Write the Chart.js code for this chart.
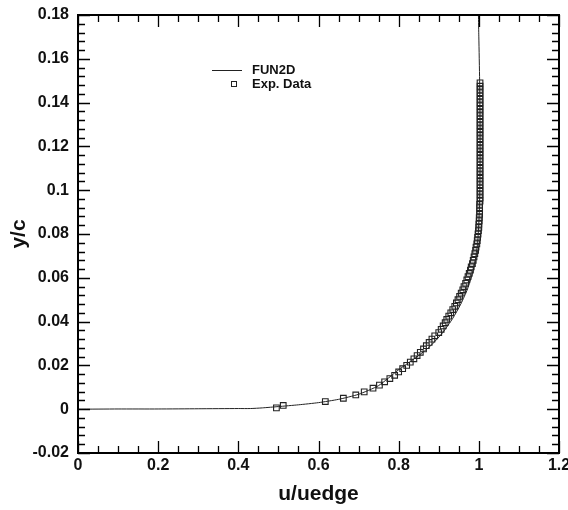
<!DOCTYPE html>
<html>
<head>
<meta charset="utf-8">
<script src="https://cdn.jsdelivr.net/npm/chart.js@4"></script>
<style>
  html, body { margin: 0; padding: 0; background: #fff; }
  #wrap { width: 568px; height: 510px; }
</style>
</head>
<body>
<div id="wrap"><canvas id="c" width="568" height="510"></canvas></div>
<script>
// ---- Data ----
const seriesNames = ['FUN2D', 'Exp. Data'];

// FUN2D computed profile (u/uedge, y/c)
const fun2dU = [0, 0.10, 0.20, 0.30, 0.40, 0.43, 0.46, 0.50, 0.55, 0.60, 0.65, 0.70, 0.75, 0.80, 0.85, 0.88, 0.91, 0.935, 0.955, 0.972, 0.984, 0.992, 0.997, 1.000, 1.002, 1.003, 1.003, 1.002, 1.000, 0.999];
const fun2dY = [0, 0.0001, 0.0001, 0.0002, 0.0003, 0.0003, 0.0006, 0.0012, 0.0020, 0.0030, 0.0045, 0.0068, 0.0108, 0.0180, 0.0245, 0.0290, 0.0350, 0.0415, 0.0480, 0.0550, 0.0620, 0.0690, 0.0760, 0.0850, 0.0950, 0.1100, 0.1300, 0.1500, 0.1700, 0.1800];

// Experimental data (u/uedge, y/c)
const expU = [0.495, 0.512, 0.617, 0.662, 0.693, 0.714, 0.736, 0.752, 0.765, 0.778, 0.790, 0.800, 0.810, 0.820, 0.829, 0.838, 0.846, 0.854, 0.862, 0.869, 0.876, 0.883, 0.890, 0.900, 0.906, 0.911, 0.916, 0.920, 0.925, 0.930, 0.935, 0.940, 0.944, 0.948, 0.952, 0.956, 0.960, 0.963, 0.967, 0.970, 0.973, 0.976, 0.979, 0.981, 0.984, 0.986, 0.988, 0.990, 0.992, 0.993, 0.995, 0.996, 0.997, 0.998, 0.999, 1.000, 1.000, 1.001, 1.001, 1.002, 1.002, 1.002, 1.002, 1.003, 1.003, 1.003, 1.003, 1.003, 1.003, 1.003, 1.003, 1.003, 1.003, 1.003, 1.003, 1.003, 1.003, 1.003, 1.003, 1.003, 1.003, 1.003, 1.003, 1.003, 1.003, 1.003, 1.003, 1.003, 1.003, 1.003, 1.003, 1.003, 1.003, 1.003, 1.003, 1.003, 1.003, 1.003, 1.003, 1.003];
const expY = [0.0006, 0.0017, 0.0035, 0.0050, 0.0065, 0.0079, 0.0096, 0.0110, 0.0125, 0.0140, 0.0155, 0.0170, 0.0185, 0.0200, 0.0215, 0.0230, 0.0245, 0.0260, 0.0275, 0.0290, 0.0305, 0.0320, 0.0335, 0.0350, 0.0365, 0.0380, 0.0395, 0.0410, 0.0425, 0.0440, 0.0455, 0.0470, 0.0485, 0.0500, 0.0515, 0.0530, 0.0545, 0.0560, 0.0575, 0.0590, 0.0605, 0.0620, 0.0635, 0.0650, 0.0665, 0.0680, 0.0695, 0.0710, 0.0725, 0.0740, 0.0755, 0.0770, 0.0785, 0.0800, 0.0815, 0.0830, 0.0845, 0.0860, 0.0875, 0.0890, 0.0905, 0.0920, 0.0935, 0.0950, 0.0965, 0.0980, 0.0995, 0.1010, 0.1025, 0.1040, 0.1055, 0.1070, 0.1085, 0.1100, 0.1115, 0.1130, 0.1145, 0.1160, 0.1175, 0.1190, 0.1205, 0.1220, 0.1235, 0.1250, 0.1265, 0.1280, 0.1295, 0.1310, 0.1325, 0.1340, 0.1355, 0.1370, 0.1385, 0.1400, 0.1415, 0.1430, 0.1445, 0.1460, 0.1475, 0.1490, 0.1505];

// Axis ticks
const xTickLabels = ['0', '0.2', '0.4', '0.6', '0.8', '1', '1.2'];
const yTickLabels = ['-0.02', '0', '0.02', '0.04', '0.06', '0.08', '0.1', '0.12', '0.14', '0.16', '0.18'];
const xRange = [0, 1.2];
const yRange = [-0.02, 0.18];
const xMajorStep = 0.2, xMinorStep = 0.05;
const yMajorStep = 0.02, yMinorStep = 0.004;

// ---- Chart ----
const FONT = "'Liberation Sans', Arial, Helvetica, sans-serif";
const toPts = (xs, ys) => xs.map((x, i) => ({ x: x, y: ys[i] }));

const framePlugin = {
  id: 'frame',
  afterDatasetsDraw(chart) {
    const ctx = chart.ctx;
    const a = chart.chartArea;
    const xs = chart.scales.x, ys = chart.scales.y;
    ctx.save();
    ctx.strokeStyle = '#000';
    // ticks
    ctx.lineWidth = 1.3;
    const nx = Math.round((xRange[1] - xRange[0]) / xMinorStep);
    for (let i = 0; i <= nx; i++) {
      const v = xRange[0] + i * xMinorStep;
      const major = (i % Math.round(xMajorStep / xMinorStep)) === 0;
      const len = major ? 12 : 7;
      const px = Math.round(xs.getPixelForValue(v)) + 0.5;
      ctx.beginPath();
      ctx.moveTo(px, a.bottom); ctx.lineTo(px, a.bottom - len);
      ctx.moveTo(px, a.top); ctx.lineTo(px, a.top + len);
      ctx.stroke();
    }
    const ny = Math.round((yRange[1] - yRange[0]) / yMinorStep);
    for (let i = 0; i <= ny; i++) {
      const v = yRange[0] + i * yMinorStep;
      const major = (i % Math.round(yMajorStep / yMinorStep)) === 0;
      const len = major ? 12 : 7;
      const py = Math.round(ys.getPixelForValue(v)) + 0.5;
      ctx.beginPath();
      ctx.moveTo(a.left, py); ctx.lineTo(a.left + len, py);
      ctx.moveTo(a.right, py); ctx.lineTo(a.right - len, py);
      ctx.stroke();
    }
    // frame
    ctx.lineWidth = 2;
    ctx.strokeRect(a.left, a.top, a.right - a.left, a.bottom - a.top);

    // legend
    const lx = a.left + 134, ly = a.top + 55;
    ctx.lineWidth = 1;
    ctx.strokeStyle = '#222';
    ctx.beginPath();
    ctx.moveTo(lx, ly + 0.5); ctx.lineTo(lx + 30, ly + 0.5);
    ctx.stroke();
    ctx.strokeStyle = '#222';
    ctx.strokeRect(lx + 19.5, ly + 11.5, 5, 5);
    ctx.fillStyle = '#111';
    ctx.font = "bold 13px " + FONT;
    ctx.textBaseline = 'middle';
    ctx.textAlign = 'left';
    ctx.fillText(seriesNames[0], lx + 40, ly);
    ctx.fillText(seriesNames[1], lx + 40, ly + 14);
    ctx.restore();
  }
};

new Chart(document.getElementById('c'), {
  type: 'scatter',
  data: {
    datasets: [
      {
        label: seriesNames[0],
        data: toPts(fun2dU, fun2dY),
        showLine: true,
        borderColor: '#222',
        borderWidth: 1,
        pointRadius: 0,
        tension: 0.2,
        fill: false,
        order: 2
      },
      {
        label: seriesNames[1],
        data: toPts(expU, expY),
        showLine: false,
        pointStyle: 'rect',
        pointRadius: 4,
        borderColor: '#222',
        backgroundColor: 'rgba(0,0,0,0)',
        pointBorderWidth: 1.1,
        order: 1
      }
    ]
  },
  options: {
    responsive: false,
    animation: false,
    devicePixelRatio: 1,
    layout: { padding: { top: 15, right: 9, left: 0, bottom: 0 } },
    plugins: { legend: { display: false }, tooltip: { enabled: false } },
    scales: {
      x: {
        type: 'linear',
        min: xRange[0], max: xRange[1],
        grid: { display: false, drawTicks: false },
        border: { display: false },
        ticks: {
          stepSize: xMajorStep,
          autoSkip: false,
          maxRotation: 0,
          padding: 3,
          color: '#111',
          font: { family: FONT, size: 16, weight: 'bold' },
          callback: (v, i) => xTickLabels[i]
        },
        title: {
          display: true, text: 'u/uedge', color: '#111',
          font: { family: FONT, size: 21, weight: 'bold' },
          padding: { top: 0, bottom: 3 }
        },
        afterFit: s => { s.height = 57; s.paddingLeft = 0; s.paddingRight = 0; }
      },
      y: {
        type: 'linear',
        min: yRange[0], max: yRange[1],
        grid: { display: false, drawTicks: false },
        border: { display: false },
        ticks: {
          stepSize: yMajorStep,
          autoSkip: false,
          padding: 9,
          color: '#111',
          font: { family: FONT, size: 16, weight: 'bold' },
          callback: (v, i) => yTickLabels[i]
        },
        title: {
          display: true, text: 'y/c', color: '#111',
          font: { family: FONT, size: 21, weight: 'bold' },
          padding: { top: 7, bottom: 0 }
        },
        afterFit: s => { s.width = 78; s.paddingTop = 0; s.paddingBottom = 0; }
      }
    }
  },
  plugins: [framePlugin]
});
</script>
</body>
</html>
